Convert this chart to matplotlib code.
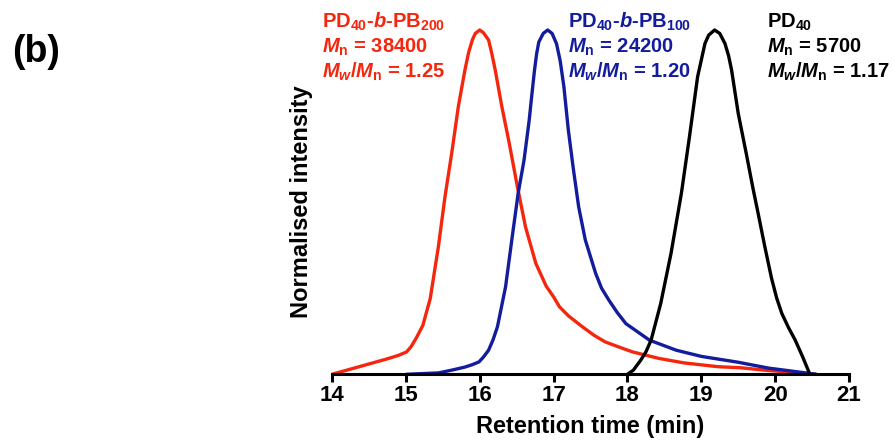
import matplotlib
matplotlib.use("Agg")
import matplotlib.pyplot as plt

# values (retention time in min, normalised intensity)
red_x = [14.0, 14.5, 14.75, 14.9, 15.01, 15.07, 15.14, 15.23, 15.33, 15.44, 15.53, 15.62,
         15.71, 15.80, 15.85, 15.90, 15.94, 16.0, 16.05, 16.12, 16.16, 16.21, 16.30, 16.40,
         16.51, 16.62, 16.76, 16.90, 17.0, 17.08, 17.2, 17.39, 17.55, 17.70, 17.9, 18.07,
         18.43, 18.77, 19.23, 19.53, 19.91, 20.56]
red_y = [0.0, 0.03, 0.045, 0.055, 0.065, 0.08, 0.105, 0.142, 0.22, 0.370, 0.516, 0.641,
         0.777, 0.884, 0.935, 0.971, 0.99, 1.0, 0.992, 0.971, 0.935, 0.884, 0.777, 0.671,
         0.545, 0.428, 0.322, 0.256, 0.225, 0.196, 0.17, 0.138, 0.113, 0.094, 0.078, 0.065,
         0.046, 0.033, 0.022, 0.019, 0.011, 0.0]

blue_x = [15.0, 15.44, 15.62, 15.80, 15.90, 15.99, 16.05, 16.12, 16.18, 16.24, 16.35, 16.44,
          16.52, 16.60, 16.67, 16.70, 16.74, 16.77, 16.80, 16.86, 16.92, 16.98, 17.04, 17.09,
          17.14, 17.20, 17.27, 17.34, 17.43, 17.57, 17.65, 17.75, 17.86, 17.98, 18.30, 18.66,
          19.0, 19.5, 19.91, 20.56]
blue_y = [0.0, 0.004, 0.012, 0.021, 0.028, 0.036, 0.05, 0.070, 0.10, 0.138, 0.254, 0.399,
          0.525, 0.622, 0.738, 0.80, 0.88, 0.93, 0.965, 0.99, 1.0, 0.99, 0.96, 0.91,
          0.835, 0.709, 0.593, 0.486, 0.390, 0.293, 0.25, 0.215, 0.18, 0.147, 0.099, 0.070,
          0.052, 0.035, 0.018, 0.0]

black_x = [18.0, 18.08, 18.18, 18.25, 18.32, 18.45, 18.59, 18.73, 18.84, 18.95, 19.05, 19.10,
           19.18, 19.25, 19.32, 19.37, 19.41, 19.50, 19.61, 19.70, 19.77, 19.86, 19.95, 20.02,
           20.09, 20.18, 20.27, 20.37, 20.47]
black_y = [0.0, 0.012, 0.041, 0.065, 0.099, 0.205, 0.351, 0.525, 0.690, 0.864, 0.961, 0.985,
           1.0, 0.99, 0.961, 0.925, 0.884, 0.758, 0.64, 0.54, 0.467, 0.371, 0.280, 0.222,
           0.177, 0.136, 0.100, 0.052, 0.0]

xticks = [14, 15, 16, 17, 18, 19, 20, 21]

red = "#F5260E"
blue = "#131C9C"

plt.rcParams["font.family"] = "Liberation Sans"
plt.rcParams["font.weight"] = "bold"
plt.rcParams["mathtext.fontset"] = "custom"
plt.rcParams["mathtext.rm"] = "Liberation Sans:bold"
plt.rcParams["mathtext.it"] = "Liberation Sans:bold:italic"
plt.rcParams["mathtext.bf"] = "Liberation Sans:bold"

W, H = 895, 448
fig = plt.figure(figsize=(W / 100, H / 100), dpi=100)
ax = fig.add_axes([332 / W, 1 - 374.3 / H, (849 - 332) / W, (374.3 - 30) / H])

for xs, ys, c in [(red_x, red_y, red), (blue_x, blue_y, blue), (black_x, black_y, "black")]:
    ax.plot(xs, ys, color=c, linewidth=2.4, clip_on=False,
            solid_joinstyle="round", solid_capstyle="butt")

ax.set_xlim(14, 21)
ax.set_ylim(0, 1)
ax.set_xticks(xticks)
ax.set_yticks([])
for s in ["left", "top", "right"]:
    ax.spines[s].set_visible(False)
ax.spines["bottom"].set_linewidth(2.2)
ax.tick_params(axis="x", length=6, width=2.2, pad=2, labelsize=16)
for lab in ax.get_xticklabels():
    lab.set_fontweight("bold")

ax.set_xlabel("Retention time (min)", fontsize=17, fontweight="bold", labelpad=6)
ax.set_ylabel("Normalised intensity", fontsize=17, fontweight="bold", labelpad=14)

# sample annotations, one line at a time
labels = [
    (322, red, [r"PD$_{\mathrm{40}}$-$b$-PB$_{\mathrm{200}}$", r"$M_{\mathrm{n}}$ = 38400",
                r"$M_w/M_{\mathrm{n}}$ = 1.25"]),
    (568, blue, [r"PD$_{\mathrm{40}}$-$b$-PB$_{\mathrm{100}}$", r"$M_{\mathrm{n}}$ = 24200",
                 r"$M_w/M_{\mathrm{n}}$ = 1.20"]),
    (767, "black", [r"PD$_{\mathrm{40}}$", r"$M_{\mathrm{n}}$ = 5700",
                    r"$M_w/M_{\mathrm{n}}$ = 1.17"]),
]
for x0, c, lines in labels:
    for i, t in enumerate(lines):
        fig.text(x0 / W, 1 - (28 + 25 * i) / H, t, color=c, fontsize=14.5,
                 fontweight="bold", ha="left", va="baseline")

fig.text(12 / W, 1 - 62 / H, "(b)", fontsize=27, fontweight="bold", va="baseline")

fig.savefig("out.png", dpi=100)
